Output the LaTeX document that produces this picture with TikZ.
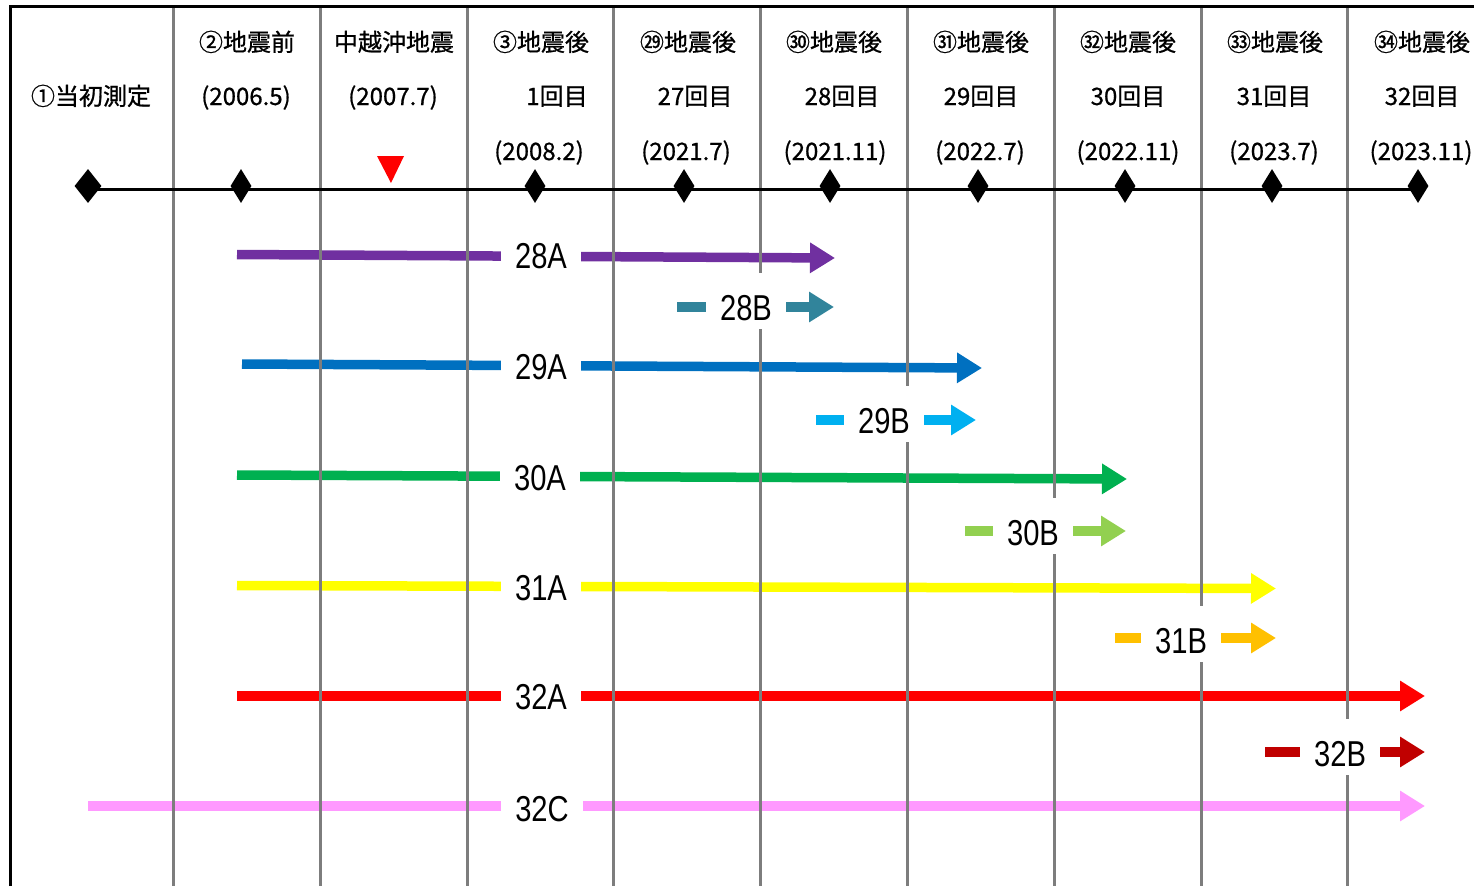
\documentclass[tikz,border=0pt]{standalone}
\usepackage{fontspec}
\usetikzlibrary{arrows.meta,shapes.geometric}
\newfontfamily\cjk[FakeBold=0.8]{Noto Sans CJK JP}
\newfontfamily\labfont{Liberation Sans}
\definecolor{gridgray}{RGB}{125,125,125}
\definecolor{cA28}{RGB}{112,48,160}
\definecolor{cB28}{RGB}{49,132,155}
\definecolor{cA29}{RGB}{0,112,192}
\definecolor{cB29}{RGB}{0,176,240}
\definecolor{cA30}{RGB}{0,176,80}
\definecolor{cB30}{RGB}{146,208,80}
\definecolor{cA31}{RGB}{255,255,0}
\definecolor{cB31}{RGB}{255,192,0}
\definecolor{cA32}{RGB}{255,0,0}
\definecolor{cB32}{RGB}{192,0,0}
\definecolor{cC32}{RGB}{255,153,255}
\newcommand\lbltxt[1]{\scalebox{0.81}[1]{#1}}
\tikzset{
  hdr/.style={font=\cjk\fontsize{24}{24}\selectfont, inner sep=0pt, anchor=base},
  lab/.style={fill=white, inner xsep=14pt, inner ysep=0pt, text height=47pt, text depth=9pt, anchor=base, font=\labfont\fontsize{36}{36}\selectfont},
  arr/.style={line width=9.5pt, -{Triangle[length=25pt,width=29pt]}},
  gridline/.style={line width=3pt, draw=gridgray},
  dia/.style={diamond, fill=black, inner sep=0pt, minimum width=21pt, minimum height=34pt},
  tl/.style={line width=2.5pt, draw=black},
}
\begin{document}
\begin{tikzpicture}[x=1pt,y=-1pt]
\useasboundingbox (0,0) rectangle (1474,886);
% border
\coordinate (bl) at (10.5,886);
\coordinate (tlc) at (10.5,6.5);
\coordinate (tr) at (1474,6.5);
\draw[line width=3pt] (bl) -- (tlc) -- (tr);

% arrows
\coordinate (s28A) at (237,254.5); \coordinate (e28A) at (835,258);
\coordinate (s28B) at (677,307);   \coordinate (e28B) at (834,307);
\coordinate (s29A) at (242,364);   \coordinate (e29A) at (982,368);
\coordinate (s29B) at (816,420);   \coordinate (e29B) at (976,420);
\coordinate (s30A) at (237,475);   \coordinate (e30A) at (1127,479);
\coordinate (s30B) at (965,531);   \coordinate (e30B) at (1126,531);
\coordinate (s31A) at (237,585.5); \coordinate (e31A) at (1276,588.5);
\coordinate (s31B) at (1115,638);  \coordinate (e31B) at (1276,638);
\coordinate (s32A) at (237,696);   \coordinate (e32A) at (1425,696);
\coordinate (s32B) at (1265,752);  \coordinate (e32B) at (1425,752);
\coordinate (s32C) at (88,806);    \coordinate (e32C) at (1425,806);
\draw[arr, cA28] (s28A) -- (e28A);
\draw[arr, cB28] (s28B) -- (e28B);
\draw[arr, cA29] (s29A) -- (e29A);
\draw[arr, cB29] (s29B) -- (e29B);
\draw[arr, cA30] (s30A) -- (e30A);
\draw[arr, cB30] (s30B) -- (e30B);
\draw[arr, cA31] (s31A) -- (e31A);
\draw[arr, cB31] (s31B) -- (e31B);
\draw[arr, cA32] (s32A) -- (e32A);
\draw[arr, cB32] (s32B) -- (e32B);
\draw[arr, cC32] (s32C) -- (e32C);

% grid lines
\foreach \x [count=\i] in {173,320,467,613.5,760,907,1054,1201,1347.5}{
  \coordinate (gt\i) at (\x,8);
  \coordinate (gb\i) at (\x,886);
  \draw[gridline] (gt\i) -- (gb\i);
}

% labels
\node[lab] (l28A) at (541,268.5) {\lbltxt{28A}};
\node[lab] (l28B) at (746,320) {\lbltxt{28B}};
\node[lab] (l29A) at (541,379) {\lbltxt{29A}};
\node[lab] (l29B) at (884,433) {\lbltxt{29B}};
\node[lab] (l30A) at (540,490) {\lbltxt{30A}};
\node[lab] (l30B) at (1033,545) {\lbltxt{30B}};
\node[lab] (l31A) at (541,600) {\lbltxt{31A}};
\node[lab] (l31B) at (1181,653) {\lbltxt{31B}};
\node[lab] (l32A) at (541,709) {\lbltxt{32A}};
\node[lab] (l32B) at (1340,766) {\lbltxt{32B}};
\node[lab] (l32C) at (542,821) {\lbltxt{32C}};

% timeline
\coordinate (t1) at (88,189.5);
\coordinate (t9) at (1418,189.5);
\draw[tl] (t1) -- (t9);
\node[dia, minimum width=27pt] (d1) at (88,186) {};
\node[dia] (d2) at (241,186) {};
\node[dia] (d3) at (535,186) {};
\node[dia] (d4) at (684,186) {};
\node[dia] (d5) at (830,186) {};
\node[dia] (d6) at (978,186) {};
\node[dia] (d7) at (1125,186) {};
\node[dia] (d8) at (1272,186) {};
\node[dia] (d9) at (1418,186) {};

% earthquake marker
\fill[red] (377,156) -- (404,156) -- (391,183) -- cycle;

% header texts
\node[hdr] (h1) at (91,105) {①当初測定};
\node[hdr] (h2a) at (247,51) {②地震前};
\node[hdr] (h2b) at (246,105) {(2006.5)};
\node[hdr] (h3a) at (394,51) {中越沖地震};
\node[hdr] (h3b) at (393,105) {(2007.7)};
\node[hdr] (h4a) at (541,51) {③地震後};
\node[hdr] (h4b) at (557,105) {1回目};
\node[hdr] (h4c) at (539,160) {(2008.2)};
\node[hdr] (h5a) at (688,51) {㉙地震後};
\node[hdr] (h5b) at (695,105) {27回目};
\node[hdr] (h5c) at (686,160) {(2021.7)};
\node[hdr] (h6a) at (834,51) {㉚地震後};
\node[hdr] (h6b) at (842,105) {28回目};
\node[hdr] (h6c) at (835,160) {(2021.11)};
\node[hdr] (h7a) at (981,51) {㉛地震後};
\node[hdr] (h7b) at (981,105) {29回目};
\node[hdr] (h7c) at (980,160) {(2022.7)};
\node[hdr] (h8a) at (1128,51) {㉜地震後};
\node[hdr] (h8b) at (1128,105) {30回目};
\node[hdr] (h8c) at (1128,160) {(2022.11)};
\node[hdr] (h9a) at (1275,51) {㉝地震後};
\node[hdr] (h9b) at (1274,105) {31回目};
\node[hdr] (h9c) at (1274,160) {(2023.7)};
\node[hdr] (h10a) at (1422,51) {㉞地震後};
\node[hdr] (h10b) at (1422,105) {32回目};
\node[hdr] (h10c) at (1421,160) {(2023.11)};
\end{tikzpicture}
\end{document}
